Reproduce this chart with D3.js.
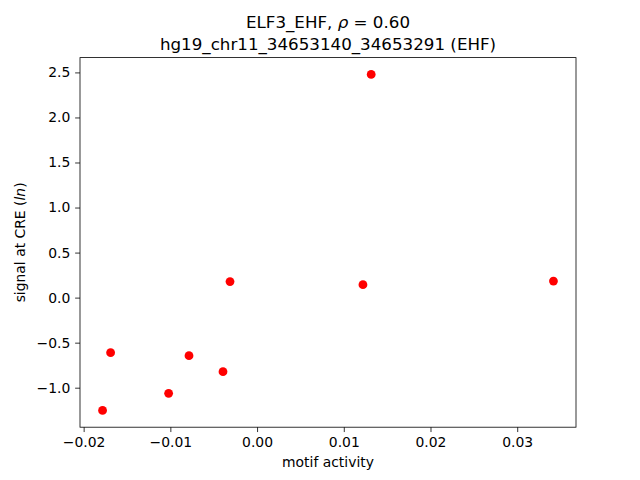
<!DOCTYPE html>
<html><head><meta charset="utf-8">
<script src="https://cdn.jsdelivr.net/npm/d3@7"></script>
<style>body{margin:0;background:#fff}svg{display:block}text{font-family:"DejaVu Sans",sans-serif;fill:#000}</style>
</head><body>
<script>
const motifActivity = [-0.01782, -0.01689, -0.01020, -0.00785, -0.00393, -0.00312, 0.01221, 0.01316, 0.03418];
const signalCRE     = [-1.252, -0.611, -1.063, -0.644, -0.822, 0.178, 0.144, 2.478, 0.184];
const xTicks = [-0.02, -0.01, 0.00, 0.01, 0.02, 0.03];
const yTicks = [-1.0, -0.5, 0.0, 0.5, 1.0, 1.5, 2.0, 2.5];
const titleLine1 = "ELF3_EHF, ";
const titleRho = "0.60";
const titleLine2 = "hg19_chr11_34653140_34653291 (EHF)";
const xLabel = "motif activity";

const W = 640, H = 480;
const L = 80, R = 576, T = 57.6, B = 427.2;
const svg = d3.select("body").append("svg").attr("width", W).attr("height", H);

function padDomain(arr){
  const [a,b] = d3.extent(arr); const r = b-a; return [a-0.05*r, b+0.05*r];
}
const x = d3.scaleLinear().domain(padDomain(motifActivity)).range([L, R]);
const y = d3.scaleLinear().domain(padDomain(signalCRE)).range([B, T]);

const fmtMinus = s => s.replace("-", "\u2212");
const xAxis = d3.axisBottom(x).tickValues(xTicks).tickSize(4.86).tickPadding(4.86)
  .tickFormat(d => fmtMinus(d3.format(".2f")(d)));
const yAxis = d3.axisLeft(y).tickValues(yTicks).tickSize(4.86).tickPadding(4.86)
  .tickFormat(d => fmtMinus(d3.format(".1f")(d)));

const gx = svg.append("g").attr("transform", `translate(0,${B})`).call(xAxis);
const gy = svg.append("g").attr("transform", `translate(${L},0)`).call(yAxis);
[gx, gy].forEach(g => {
  g.select(".domain").remove();
  g.selectAll(".tick line").attr("stroke", "#000").attr("stroke-width", 0.8);
  g.selectAll(".tick text").attr("font-size", "13.9px").attr("font-family", "DejaVu Sans");
});

svg.append("rect").attr("x", L).attr("y", T).attr("width", R-L).attr("height", B-T)
  .attr("fill", "none").attr("stroke", "#000").attr("stroke-width", 0.8);

svg.append("g").selectAll("circle").data(motifActivity.map((v,i)=>[v, signalCRE[i]]))
  .join("circle").attr("cx", d => x(d[0])).attr("cy", d => y(d[1])).attr("r", 4.4).attr("fill", "#ff0000");

// title
const t1 = svg.append("text").attr("x", (L+R)/2).attr("y", 28).attr("text-anchor", "middle").attr("font-size", "16.7px");
t1.append("tspan").text(titleLine1);
t1.append("tspan").attr("font-style", "italic").text("\u03c1");
t1.append("tspan").text(" = " + titleRho);
svg.append("text").attr("x", (L+R)/2).attr("y", 50).attr("text-anchor", "middle").attr("font-size", "16.7px").text(titleLine2);

svg.append("text").attr("x", (L+R)/2).attr("y", 467).attr("text-anchor", "middle").attr("font-size", "13.9px").text(xLabel);

const yl = svg.append("text").attr("transform", `translate(25,${(T+B)/2}) rotate(-90)`).attr("text-anchor", "middle").attr("font-size", "13.9px");
yl.append("tspan").text("signal at CRE (");
yl.append("tspan").attr("font-style", "italic").text("ln");
yl.append("tspan").text(")");
</script>
</body></html>
